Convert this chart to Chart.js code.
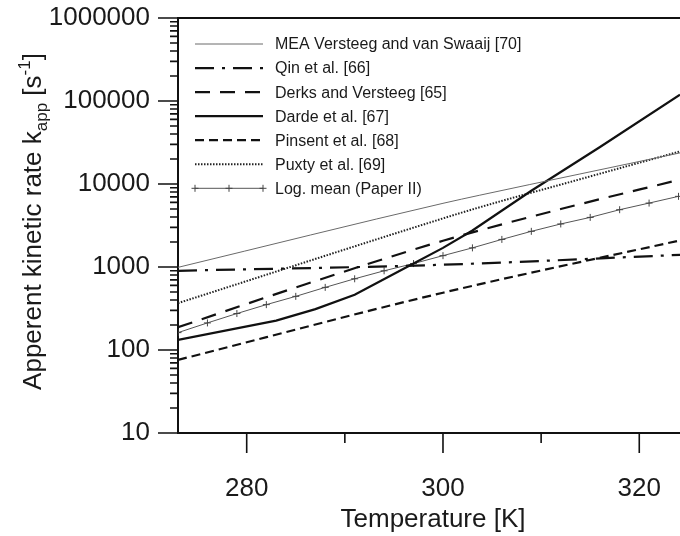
<!DOCTYPE html>
<html lang="en">
<head>
<meta charset="UTF-8">
<title>Apperent kinetic rate vs temperature</title>
<script src="https://cdn.jsdelivr.net/npm/chart.js"></script>
<style>
  html, body { margin: 0; padding: 0; background: #fff; }
  #wrap { position: relative; width: 680px; height: 536px; }
</style>
</head>
<body>
<div id="wrap"><canvas id="kinetics"></canvas></div>
<script>
// temperature [K] / apparent rate [1/s]
const lineT = [273, 300, 324.15];
const qin = [900, 1065, 1400];
const pinsent = [76, 490, 2090];

const curveT = [273, 300, 303.75, 313.95, 324.15];
const meaVersteeg = [990, 5850, 7330, 13200, 23700];
const puxty = [367, 3850, 5250, 11400, 24700];

const derksT = [273, 286, 300, 312, 324.15];
const derks = [188, 620, 2070, 4990, 11300];

const dardeT = [273, 283, 287, 291, 297, 300, 303, 309, 316, 324.15];
const darde = [132, 226, 311, 462, 1100, 1700, 2750, 8300, 27900, 119000];

const logMeanT = [273, 276, 279, 282, 285, 288, 291, 294, 297, 300, 303, 306, 309, 312, 315, 318, 321, 324];
const logMean = [162, 212, 275, 352, 443, 568, 721, 900, 1100, 1370, 1700, 2150, 2690, 3300, 3960, 4900, 5890, 7100];

const xMajor = [280, 300, 320];
const xMinor = [290, 310];
const yDecades = [10, 100, 1000, 10000, 100000, 1000000];

const FONT = '"Liberation Sans", Arial, sans-serif';
const INK = '#1a1a1a';

function pairs(xs, ys) {
  return xs.map((x, i) => ({ x: x, y: ys[i] }));
}

function series(label, xs, ys, style) {
  return Object.assign({
    label: label,
    data: pairs(xs, ys),
    borderColor: '#111',
    borderWidth: 2.2,
    borderDash: [],
    pointRadius: 0,
    fill: false,
    cubicInterpolationMode: 'monotone'
  }, style);
}

const datasets = [
  series('MEA Versteeg and van Swaaij [70]', curveT, meaVersteeg, { borderColor: '#6a6a6a', borderWidth: 1 }),
  series('Qin et al. [66]', lineT, qin, { borderDash: [19, 8, 3, 8] }),
  series('Derks and Versteeg [65]', derksT, derks, { borderDash: [15, 10] }),
  series('Darde et al. [67]', dardeT, darde, { cubicInterpolationMode: 'default', tension: 0 }),
  series('Pinsent et al. [68]', lineT, pinsent, { borderDash: [9, 5] }),
  series('Puxty et al. [69]', curveT, puxty, { borderColor: '#222', borderWidth: 2, borderDash: [1.5, 1.5] }),
  series('Log. mean (Paper II)', logMeanT, logMean, {
    borderColor: '#555', borderWidth: 1, tension: 0, cubicInterpolationMode: 'default',
    pointRadius: 3.5, pointStyle: 'cross', pointBorderWidth: 1, pointBorderColor: '#444'
  })
];

// axis frame: top rule plus outward tick marks
const frame = {
  id: 'frame',
  afterDraw(chart) {
    const { ctx, chartArea: a, scales: { x, y } } = chart;
    ctx.save();
    ctx.strokeStyle = '#111';
    ctx.lineWidth = 2;
    ctx.beginPath();
    ctx.moveTo(a.left - 1, a.top);
    ctx.lineTo(a.right, a.top);
    ctx.stroke();

    ctx.lineWidth = 1.6;
    ctx.beginPath();
    xMajor.forEach(v => { const p = x.getPixelForValue(v); ctx.moveTo(p, a.bottom); ctx.lineTo(p, a.bottom + 20); });
    xMinor.forEach(v => { const p = x.getPixelForValue(v); ctx.moveTo(p, a.bottom); ctx.lineTo(p, a.bottom + 10); });
    yDecades.forEach(v => { const p = y.getPixelForValue(v); ctx.moveTo(a.left - 20, p); ctx.lineTo(a.left, p); });
    for (let d = 0; d < yDecades.length - 1; d++) {
      for (let m = 2; m <= 9; m++) {
        const p = y.getPixelForValue(yDecades[d] * m);
        ctx.moveTo(a.left - 8, p);
        ctx.lineTo(a.left, p);
      }
    }
    ctx.stroke();
    ctx.restore();
  }
};

// legend drawn inside the plot, upper left
const insetLegend = {
  id: 'insetLegend',
  afterDatasetsDraw(chart) {
    const { ctx, chartArea: a } = chart;
    const x0 = a.left + 17, x1 = a.left + 85, tx = a.left + 97;
    chart.data.datasets.forEach((ds, i) => {
      const yy = a.top + 26 + i * 24.05;
      ctx.save();
      ctx.strokeStyle = ds.borderColor;
      ctx.lineWidth = ds.borderWidth;
      ctx.setLineDash(ds.borderDash || []);
      ctx.beginPath();
      ctx.moveTo(x0, yy);
      ctx.lineTo(x1, yy);
      ctx.stroke();
      if (ds.pointRadius) {
        ctx.setLineDash([]);
        ctx.strokeStyle = ds.pointBorderColor;
        [x0, (x0 + x1) / 2, x1].forEach(px => {
          ctx.beginPath();
          ctx.moveTo(px - 3.5, yy); ctx.lineTo(px + 3.5, yy);
          ctx.moveTo(px, yy - 3.5); ctx.lineTo(px, yy + 3.5);
          ctx.stroke();
        });
      }
      ctx.fillStyle = INK;
      ctx.font = '16px ' + FONT;
      ctx.textBaseline = 'middle';
      ctx.fillText(ds.label, tx, yy + 1);
      ctx.restore();
    });
  }
};

// axis titles (the y title carries a subscript and a superscript)
const axisTitles = {
  id: 'axisTitles',
  afterDraw(chart) {
    const { ctx, chartArea: a } = chart;
    ctx.save();
    ctx.fillStyle = INK;
    ctx.textBaseline = 'alphabetic';

    ctx.font = '26px ' + FONT;
    ctx.textAlign = 'center';
    ctx.fillText('Temperature [K]', 433, 527);

    const parts = [
      { t: 'Apperent kinetic rate k', size: 26, dy: 0 },
      { t: 'app', size: 17, dy: 6 },
      { t: ' [s', size: 26, dy: 0 },
      { t: '-1', size: 17, dy: -11 },
      { t: ']', size: 26, dy: 0 }
    ];
    let total = 0;
    parts.forEach(p => { ctx.font = p.size + 'px ' + FONT; p.w = ctx.measureText(p.t).width; total += p.w; });
    ctx.translate(41, (a.top + a.bottom) / 2 - 4);
    ctx.rotate(-Math.PI / 2);
    ctx.textAlign = 'left';
    let cx = -total / 2;
    parts.forEach(p => {
      ctx.font = p.size + 'px ' + FONT;
      ctx.fillText(p.t, cx, p.dy);
      cx += p.w;
    });
    ctx.restore();
  }
};

new Chart(document.getElementById('kinetics'), {
  type: 'line',
  data: { datasets: datasets },
  options: {
    responsive: true,
    maintainAspectRatio: false,
    animation: false,
    layout: { autoPadding: false, padding: { top: 18, left: 0, right: 0, bottom: 0 } },
    plugins: { legend: { display: false }, tooltip: { enabled: false } },
    scales: {
      x: {
        type: 'linear',
        min: 273,
        max: 324.15,
        grid: { display: false, drawTicks: false },
        border: { display: true, color: '#111', width: 2 },
        afterBuildTicks(scale) { scale.ticks = xMajor.map(v => ({ value: v })); },
        afterFit(scale) { scale.height = 103; scale.paddingLeft = 0; scale.paddingRight = 0; },
        ticks: { color: INK, font: { family: FONT, size: 26 }, padding: 40, maxRotation: 0 }
      },
      y: {
        type: 'logarithmic',
        min: 10,
        max: 1000000,
        grid: { display: false, drawTicks: false },
        border: { display: true, color: '#111', width: 2 },
        afterBuildTicks(scale) { scale.ticks = yDecades.map(v => ({ value: v, major: true })); },
        afterFit(scale) { scale.width = 178; scale.paddingTop = 0; scale.paddingBottom = 0; },
        ticks: { color: INK, font: { family: FONT, size: 26 }, padding: 28, callback: v => String(v) }
      }
    }
  },
  plugins: [frame, insetLegend, axisTitles]
});
</script>
</body>
</html>
